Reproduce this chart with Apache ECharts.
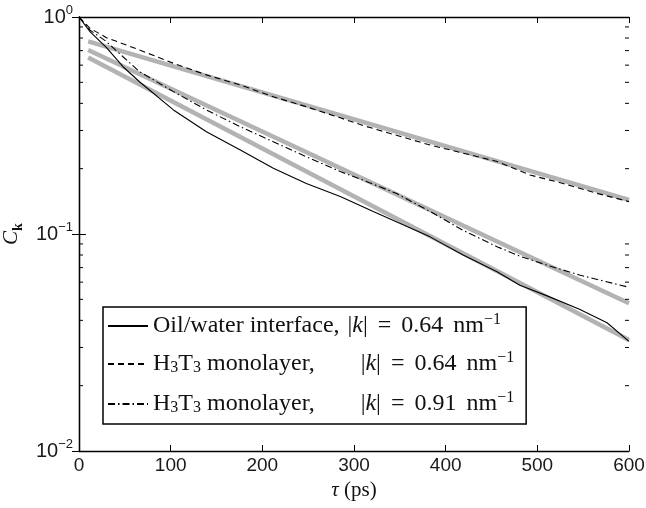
<!DOCTYPE html>
<html><head><meta charset="utf-8">
<script src="https://cdn.jsdelivr.net/npm/echarts@6/dist/echarts.min.js"></script>
<style>html,body{margin:0;padding:0;background:#fff}#c{width:646px;height:508px}</style>
</head><body><div id="c"></div>
<script>
// ---- data ----
const xTicks = [0, 100, 200, 300, 400, 500, 600];
const yMinorTicks = [0.02,0.03,0.04,0.05,0.06,0.07,0.08,0.09,0.2,0.3,0.4,0.5,0.6,0.7,0.8,0.9];

const tauSolid = [0, 12, 30, 48, 66, 103, 139, 176, 212, 248, 285, 321, 383, 419, 456, 481, 510, 546, 576, 600];
const valSolid = [1.0, 0.856, 0.723, 0.59, 0.503, 0.373, 0.296, 0.244, 0.201, 0.171, 0.149, 0.127, 0.097, 0.080, 0.067, 0.058, 0.052, 0.045, 0.039, 0.032];

const tauDashed = [0, 12, 30, 66, 103, 139, 176, 212, 248, 285, 310, 383, 456, 492, 528, 565, 600];
const valDashed = [1.0, 0.887, 0.803, 0.705, 0.612, 0.541, 0.486, 0.429, 0.386, 0.343, 0.316, 0.257, 0.216, 0.187, 0.171, 0.154, 0.141];

const tauDashDot = [0, 12, 30, 48, 66, 103, 139, 176, 212, 248, 285, 310, 346, 383, 419, 456, 481, 510, 546, 600];
const valDashDot = [1.0, 0.87, 0.77, 0.656, 0.56, 0.453, 0.373, 0.312, 0.266, 0.227, 0.194, 0.177, 0.154, 0.127, 0.104, 0.0874, 0.079, 0.072, 0.0647, 0.0568];

const tauFit = [10, 600];
const fitUpper = [0.772, 0.1435];
const fitMiddle = [0.705, 0.048];
const fitLower = [0.651, 0.0325];

const seriesNames = ['oil064', 'h3t3064', 'h3t3091'];

// ---- chart ----
const zip = (a, b) => a.map((v, i) => [v, b[i]]);
const serif = 'Liberation Serif';
const sans = 'Liberation Sans';
const chart = echarts.init(document.getElementById('c'), null, {renderer: 'canvas'});

const legendRich = {
  t: {fontFamily: serif, fontSize: 24, color: '#111', lineHeight: 28},
  i: {fontFamily: serif, fontSize: 24, fontStyle: 'italic', color: '#111', lineHeight: 28},
  sub: {fontFamily: serif, fontSize: 16, color: '#111', lineHeight: 28, verticalAlign: 'bottom', padding: [0,0,2,0]},
  sup: {fontFamily: serif, fontSize: 16, color: '#111', lineHeight: 28, verticalAlign: 'top', padding: [0,0,0,0]},
  g1: {width: 2}, g2: {width: 46}, s: {width: 4}
};
const legendText = {
  oil064: '{t|Oil/water interface, }{g1|}{t||}{i|k}{t||}{s|}{t| = }{s|}{t|0.64 }{s|}{t|nm}{sup|−1}',
  h3t3064: '{t|H}{sub|3}{t|T}{sub|3}{t| monolayer,}{g2|}{t||}{i|k}{t||}{s|}{t| = }{s|}{t|0.64 }{s|}{t|nm}{sup|−1}',
  h3t3091: '{t|H}{sub|3}{t|T}{sub|3}{t| monolayer,}{g2|}{t||}{i|k}{t||}{s|}{t| = }{s|}{t|0.91 }{s|}{t|nm}{sup|−1}'
};

const option = {
  animation: false,
  backgroundColor: '#fff',
  grid: {left: 79, right: 17, top: 17, bottom: 57, outerBoundsMode: 'none', containLabel: false},
  legend: {
    data: seriesNames,
    orient: 'vertical',
    left: 103, top: 307,
    backgroundColor: '#fff',
    borderColor: '#000', borderWidth: 1.5, borderRadius: 0,
    padding: [5, 12, 6, 4],
    itemGap: 12,
    itemWidth: 40, itemHeight: 14,
    itemStyle: {opacity: 0, borderWidth: 0},
    formatter: n => legendText[n],
    textStyle: {rich: legendRich, fontFamily: serif, fontSize: 24},
    selectedMode: false
  },
  xAxis: [{
    type: 'value', min: 0, max: 600, interval: 100,
    axisLine: {lineStyle: {color: '#000', width: 1.3}},
    axisTick: {inside: true, length: 6, lineStyle: {color: '#000'}},
    axisLabel: {fontFamily: sans, fontSize: 19, color: '#1a1a1a', margin: 5},
    splitLine: {show: false},
    name: '{i|τ}{t| (ps)}', nameLocation: 'middle', nameGap: 20,
    nameTextStyle: {rich: {
      i: {fontFamily: serif, fontSize: 21, fontStyle: 'italic', color: '#111'},
      t: {fontFamily: serif, fontSize: 21, color: '#111'}
    }}
  }, {
    type: 'value', min: 0, max: 600, interval: 100, position: 'top',
    axisLine: {lineStyle: {color: '#000', width: 1.3}},
    axisTick: {inside: true, length: 6, lineStyle: {color: '#000'}},
    axisLabel: {show: false}, splitLine: {show: false}
  }],
  yAxis: [{
    type: 'log', logBase: 10, min: 0.01, max: 1,
    axisLine: {show: true, lineStyle: {color: '#000', width: 1.3}},
    axisTick: {show: true, inside: true, length: 7, lineStyle: {color: '#000'}},
    axisLabel: {
      margin: 6,
      formatter: v => {
        const e = Math.round(Math.log10(v));
        return '{b|10}{s|' + (e < 0 ? '−' + (-e) : e) + '}';
      },
      rich: {
        b: {fontFamily: sans, fontSize: 20, color: '#1a1a1a', lineHeight: 26},
        s: {fontFamily: sans, fontSize: 13, color: '#1a1a1a', lineHeight: 26, verticalAlign: 'top'}
      }
    },
    splitLine: {show: false},
    name: '{c|C}{k|k}', nameLocation: 'middle', nameGap: 30, nameRotate: 90,
    nameTextStyle: {rich: {
      c: {fontFamily: serif, fontSize: 21, fontStyle: 'italic', color: '#111', lineHeight: 28},
      k: {fontFamily: serif, fontSize: 14, fontWeight: 'bold', color: '#111', lineHeight: 28, verticalAlign: 'bottom'}
    }}
  }, {
    type: 'log', logBase: 10, min: 0.01, max: 1, position: 'right',
    axisLine: {show: true, lineStyle: {color: '#000', width: 1.3}},
    axisTick: {show: true, inside: true, length: 7, lineStyle: {color: '#000'}},
    axisLabel: {show: false}, splitLine: {show: false}
  }],
  series: [
    {type: 'line', name: 'fitUpper', data: zip(tauFit, fitUpper), showSymbol: false, symbol: 'none', z: 1,
     lineStyle: {color: '#b3b3b3', width: 4.5}},
    {type: 'line', name: 'fitMiddle', data: zip(tauFit, fitMiddle), showSymbol: false, symbol: 'none', z: 1,
     lineStyle: {color: '#b3b3b3', width: 4.5}},
    {type: 'line', name: 'fitLower', data: zip(tauFit, fitLower), showSymbol: false, symbol: 'none', z: 1,
     lineStyle: {color: '#b3b3b3', width: 4.5}},
    {type: 'line', name: 'oil064', data: zip(tauSolid, valSolid), showSymbol: false, symbol: 'none', z: 3,
     color: '#000', lineStyle: {color: '#000', width: 1.1}},
    {type: 'line', name: 'h3t3064', data: zip(tauDashed, valDashed), showSymbol: false, symbol: 'none', z: 3,
     color: '#000', lineStyle: {color: '#000', width: 1.1, type: [6, 4]}},
    {type: 'line', name: 'h3t3091', data: zip(tauDashDot, valDashDot), showSymbol: false, symbol: 'none', z: 3,
     color: '#000', lineStyle: {color: '#000', width: 1.1, type: [7, 3, 1.5, 3]}},
    {type: 'custom', name: 'minorTicks', silent: true, clip: false, z: 4,
     data: yMinorTicks.map(v => [0, v]),
     renderItem: (params, api) => {
       const p = api.coord([0, api.value(1)]);
       const cs = params.coordSys;
       return {type: 'group', children: [
         {type: 'line', shape: {x1: cs.x, y1: p[1], x2: cs.x + 4, y2: p[1]}, style: {stroke: '#000', lineWidth: 1}},
         {type: 'line', shape: {x1: cs.x + cs.width - 4, y1: p[1], x2: cs.x + cs.width, y2: p[1]}, style: {stroke: '#000', lineWidth: 1}}
       ]};
     }}
  ]
};
chart.setOption(option);
</script>
</body></html>
